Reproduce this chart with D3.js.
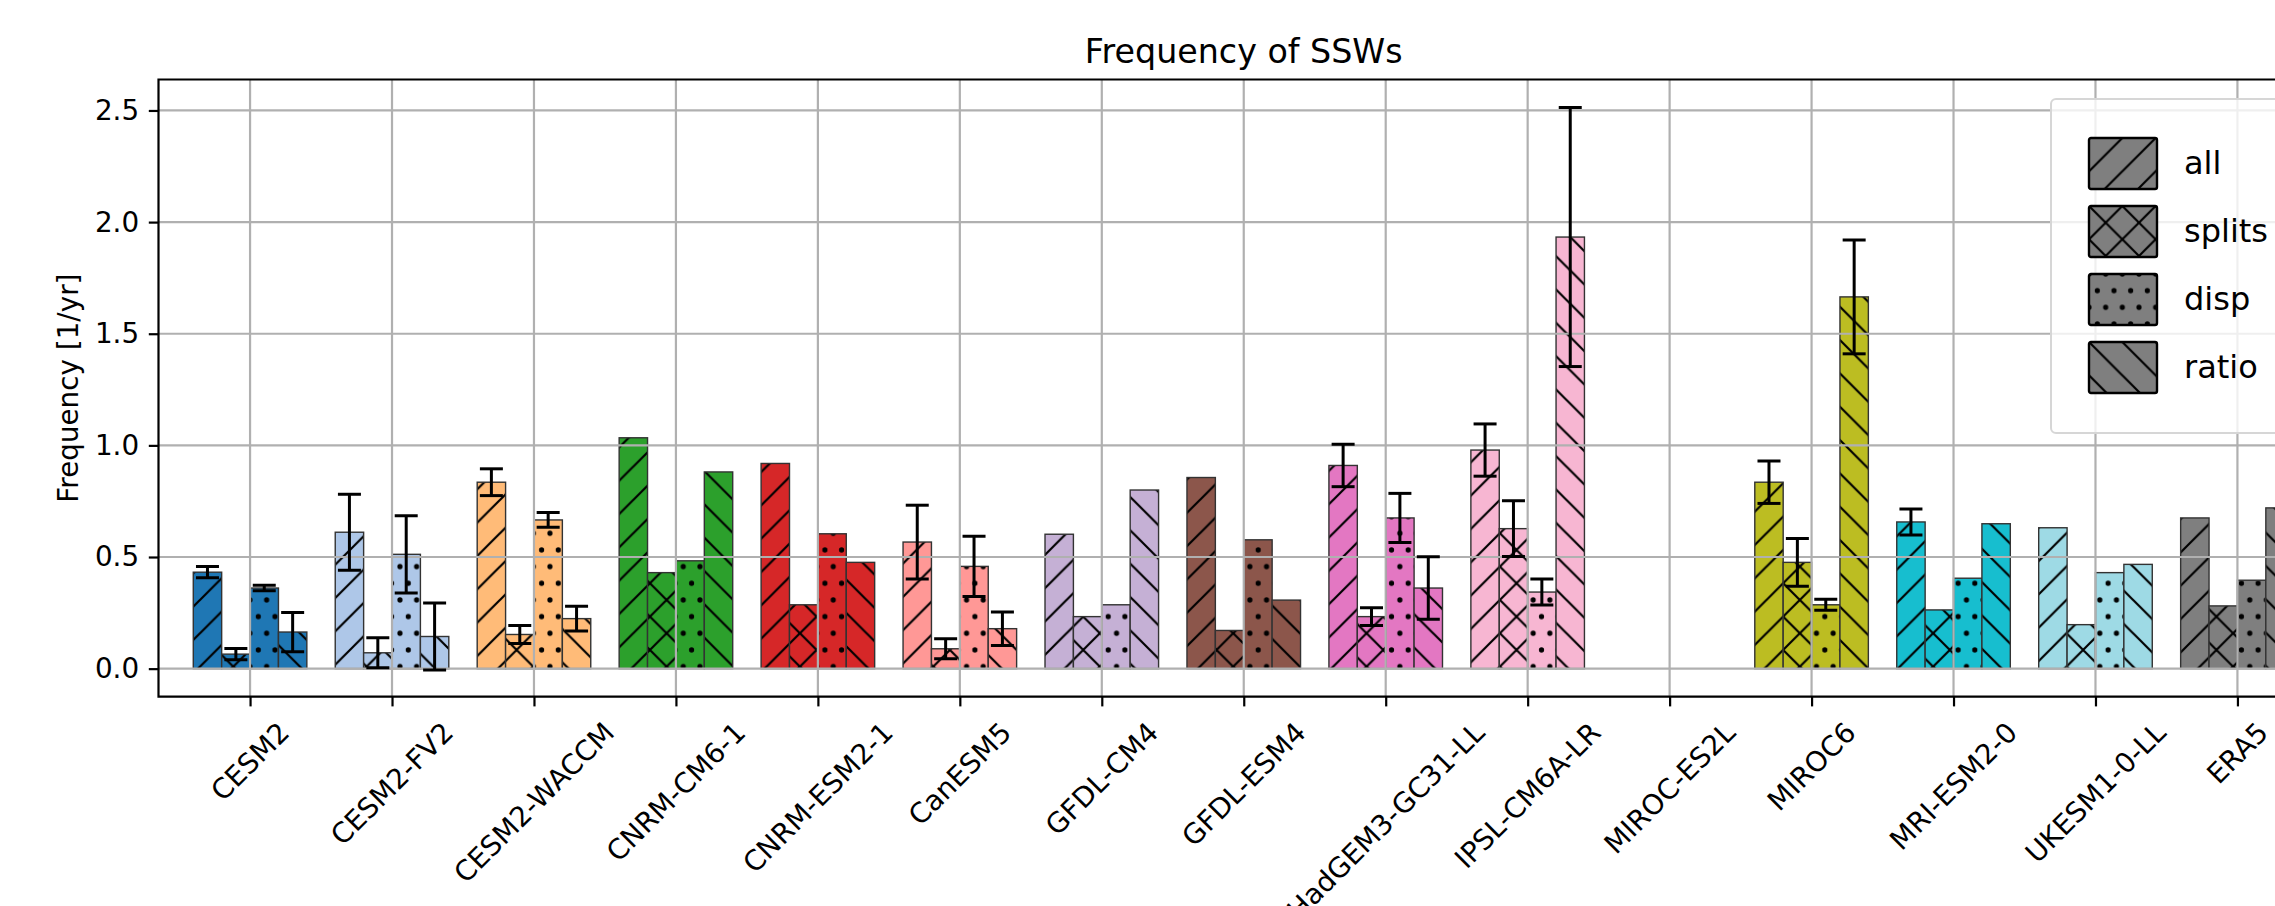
<!DOCTYPE html>
<html>
<head>
<meta charset="utf-8">
<script src="https://cdn.jsdelivr.net/npm/d3@7"></script>
<style>
  body { margin: 0; background: #fff; }
  text { font-family: "DejaVu Sans", sans-serif; fill: #000; }
</style>
</head>
<body>
<div id="chart"></div>
<script>
const models = ["CESM2", "CESM2-FV2", "CESM2-WACCM", "CNRM-CM6-1", "CNRM-ESM2-1", "CanESM5",
                "GFDL-CM4", "GFDL-ESM4", "HadGEM3-GC31-LL", "IPSL-CM6A-LR", "MIROC-ES2L",
                "MIROC6", "MRI-ESM2-0", "UKESM1-0-LL", "ERA5"];
const modelColors = ["#1f77b4", "#aec7e8", "#ffbb78", "#2ca02c", "#d62728", "#ff9896",
                     "#c5b0d5", "#8c564b", "#e377c2", "#f7b6d2", "#7f7f7f",
                     "#bcbd22", "#17becf", "#9edae5", "#7f7f7f"];

const seriesNames = ["all", "splits", "disp", "ratio"];

// frequency [1/yr], null = no data
const allFreq    = [0.432, 0.611, 0.835, 1.034, 0.919, 0.567, 0.602, 0.856, 0.910, 0.979, null, 0.835, 0.657, 0.631, 0.675];
const splitsFreq = [0.065, 0.071, 0.153, 0.430, 0.286, 0.089, 0.233, 0.171, 0.233, 0.627, null, 0.476, 0.263, 0.197, 0.281];
const dispFreq   = [0.361, 0.512, 0.666, 0.483, 0.604, 0.458, 0.286, 0.577, 0.675, 0.343, null, 0.286, 0.405, 0.430, 0.396];
const ratioFreq  = [0.164, 0.144, 0.224, 0.881, 0.476, 0.179, 0.800, 0.307, 0.361, 1.933, null, 1.665, 0.649, 0.467, 0.720];

// error bar half-lengths, null = none drawn
const allErr    = [0.025, 0.170, 0.060, null, null, 0.165, null, null, 0.095, 0.117, null, 0.095, 0.058, null, null];
const splitsErr = [0.025, 0.067, 0.040, null, null, 0.045, null, null, 0.040, 0.125, null, 0.107, null, null, null];
const dispErr   = [0.012, 0.173, 0.033, null, null, 0.135, null, null, 0.110, 0.058, null, 0.025, null, null, null];
const ratioErr  = [0.088, 0.150, 0.055, null, null, 0.075, null, null, 0.140, 0.580, null, 0.255, null, null, null];

const yTicks = [0, 0.5, 1.0, 1.5, 2.0, 2.5];

const freqs = [allFreq, splitsFreq, dispFreq, ratioFreq];
const errs = [allErr, splitsErr, dispErr, ratioErr];

const width = 2275, height = 906;
const plot = { left: 158.5, right: 2329, top: 79.5, bottom: 696.7 };
const fs = 27.8;
const legendFs = 32;
const barW = 0.2;

const svg = d3.select("#chart")
    .append("svg")
    .attr("width", width)
    .attr("height", height)
    .style("display", "block");

svg.append("rect").attr("width", width).attr("height", height).attr("fill", "#fff");

// hatch patterns (black on transparent, laid over the coloured bars)
const defs = svg.append("defs");
const s = 33.33;
const hatchPaths = {
    all: `M-2,2 L2,-2 M0,${s} L${s},0 M${s - 2},${s + 2} L${s + 2},${s - 2}`,
    ratio: `M-2,${s - 2} L2,${s + 2} M0,0 L${s},${s} M${s - 2},-2 L${s + 2},2`,
};
hatchPaths.splits = hatchPaths.all + " " + hatchPaths.ratio;

["all", "splits", "ratio"].forEach(k => {
    defs.append("pattern")
        .attr("id", "hatch-" + k)
        .attr("patternUnits", "userSpaceOnUse")
        .attr("width", s).attr("height", s)
        .append("path")
        .attr("d", hatchPaths[k])
        .attr("stroke", "#000")
        .attr("stroke-width", 2.2)
        .attr("fill", "none");
});

const dw = s / 2, dh = s;
const dots = defs.append("pattern")
    .attr("id", "hatch-disp")
    .attr("patternUnits", "userSpaceOnUse")
    .attr("width", dw).attr("height", dh);
[[0, 0], [dw, 0], [0, dh], [dw, dh], [dw / 2, dh / 2]].forEach(p => {
    dots.append("circle").attr("cx", p[0]).attr("cy", p[1]).attr("r", 2.6).attr("fill", "#000");
});

const x = d3.scaleLinear()
    .domain([-0.645, models.length - 1 + 0.645])
    .range([plot.left, plot.right]);

const maxTop = d3.max(freqs.flatMap((f, k) => f.map((v, i) => v == null ? 0 : v + (errs[k][i] || 0))));
const pad = maxTop * 0.05;
const y = d3.scaleLinear()
    .domain([-pad, maxTop + pad])
    .range([plot.bottom, plot.top]);

// flat list of bars
const bars = [];
freqs.forEach((f, k) => {
    f.forEach((v, i) => {
        if (v == null) return;
        bars.push({ i, k, v, e: errs[k][i], color: modelColors[i], name: seriesNames[k] });
    });
});
const barX = d => x(d.i + (d.k - 1.5) * barW - barW / 2);
const barPx = x(barW) - x(0);

defs.append("clipPath").attr("id", "plot-clip")
    .append("rect")
    .attr("x", plot.left).attr("y", plot.top)
    .attr("width", plot.right - plot.left).attr("height", plot.bottom - plot.top);

const g = svg.append("g").attr("clip-path", "url(#plot-clip)");

const barG = g.append("g")
    .selectAll("g")
    .data(bars)
    .enter().append("g");

barG.append("rect")
    .attr("x", barX)
    .attr("y", d => y(d.v))
    .attr("width", barPx)
    .attr("height", d => y(0) - y(d.v))
    .attr("fill", d => d.color);

barG.append("rect")
    .attr("x", barX)
    .attr("y", d => y(d.v))
    .attr("width", barPx)
    .attr("height", d => y(0) - y(d.v))
    .attr("fill", d => `url(#hatch-${d.name})`)
    .attr("stroke", "#333")
    .attr("stroke-width", 1.4);

// grid (drawn above the bars, below the error bars)
const grid = g.append("g");
grid.selectAll("line.h")
    .data(yTicks)
    .enter().append("line")
    .attr("x1", plot.left).attr("x2", plot.right)
    .attr("y1", d => y(d)).attr("y2", d => y(d))
    .attr("stroke", "#b0b0b0").attr("stroke-width", 2.2);
grid.selectAll("line.v")
    .data(models.map((m, i) => i))
    .enter().append("line")
    .attr("y1", plot.top).attr("y2", plot.bottom)
    .attr("x1", d => x(d)).attr("x2", d => x(d))
    .attr("stroke", "#b0b0b0").attr("stroke-width", 2.2);

// error bars
const errG = g.append("g")
    .selectAll("g")
    .data(bars.filter(d => d.e != null))
    .enter().append("g")
    .attr("stroke", "#000")
    .attr("stroke-width", 3);
const cx = d => barX(d) + barPx / 2;
const cap = 11.5;
errG.append("line")
    .attr("x1", cx).attr("x2", cx)
    .attr("y1", d => y(d.v - d.e)).attr("y2", d => y(d.v + d.e));
errG.append("line")
    .attr("x1", d => cx(d) - cap).attr("x2", d => cx(d) + cap)
    .attr("y1", d => y(d.v + d.e)).attr("y2", d => y(d.v + d.e));
errG.append("line")
    .attr("x1", d => cx(d) - cap).attr("x2", d => cx(d) + cap)
    .attr("y1", d => y(d.v - d.e)).attr("y2", d => y(d.v - d.e));

// spines
svg.append("path")
    .attr("d", `M${plot.right},${plot.top} L${plot.left},${plot.top} L${plot.left},${plot.bottom} L${plot.right},${plot.bottom}`)
    .attr("stroke", "#000").attr("stroke-width", 2.2).attr("fill", "none");

// y axis
const yAxis = svg.append("g")
    .attr("transform", `translate(${plot.left},0)`)
    .call(d3.axisLeft(y).tickValues(yTicks).tickFormat(d3.format(".1f")).tickSize(9.7).tickPadding(9.7));
yAxis.select(".domain").remove();
yAxis.selectAll(".tick line").attr("stroke", "#000").attr("stroke-width", 2.2);
yAxis.selectAll(".tick text")
    .style("font-size", fs + "px")
    .style("font-family", "'DejaVu Sans', sans-serif")
    .attr("fill", "#262626");

// x axis: ticks from the axis, labels rotated 45 deg, centred under each tick
const xAxis = svg.append("g")
    .attr("transform", `translate(0,${plot.bottom})`)
    .call(d3.axisBottom(x).tickValues(models.map((m, i) => i)).tickFormat("").tickSize(9.7));
xAxis.select(".domain").remove();
xAxis.selectAll(".tick line").attr("stroke", "#000").attr("stroke-width", 2.2);

const labelTop = plot.bottom + 9.7 + 9.7;
const textH = fs * 1.164;
models.forEach((m, i) => {
    const lg = svg.append("g");
    const t = lg.append("text")
        .attr("text-anchor", "middle")
        .attr("y", fs * 0.346)
        .style("font-size", fs + "px")
        .attr("fill", "#262626")
        .text(m);
    const w = t.node().getComputedTextLength();
    const half = (w + textH) / (2 * Math.SQRT2);
    lg.attr("transform", `translate(${x(i)},${labelTop + half}) rotate(-45)`);
});

// y label
svg.append("text")
    .attr("transform", `translate(${68 + fs * 0.346},${(plot.top + plot.bottom) / 2}) rotate(-90)`)
    .attr("text-anchor", "middle")
    .style("font-size", fs + "px")
    .attr("fill", "#262626")
    .text("Frequency [1/yr]");

// title
svg.append("text")
    .attr("x", (plot.left + plot.right) / 2)
    .attr("y", 63)
    .attr("text-anchor", "middle")
    .style("font-size", "33.3px")
    .attr("fill", "#262626")
    .text("Frequency of SSWs");

// legend
const legend = svg.append("g").attr("transform", "translate(2051,99)");
legend.append("rect")
    .attr("width", 330).attr("height", 334)
    .attr("rx", 5).attr("ry", 5)
    .attr("fill", "#fff").attr("fill-opacity", 0.8)
    .attr("stroke", "#d6d6d6").attr("stroke-width", 2);
const items = legend.selectAll("g.item")
    .data(seriesNames)
    .enter().append("g")
    .attr("transform", (d, k) => `translate(38,${39 + k * 68})`);
items.append("rect")
    .attr("width", 68).attr("height", 51)
    .attr("fill", "#7f7f7f");
items.append("rect")
    .attr("width", 68).attr("height", 51)
    .attr("rx", 2)
    .attr("fill", d => `url(#hatch-${d})`)
    .attr("stroke", "#000").attr("stroke-width", 2.4);
items.append("text")
    .attr("x", 95)
    .attr("y", 25.5 + legendFs * 0.34)
    .style("font-size", legendFs + "px")
    .attr("fill", "#262626")
    .text(d => d);
</script>
</body>
</html>
